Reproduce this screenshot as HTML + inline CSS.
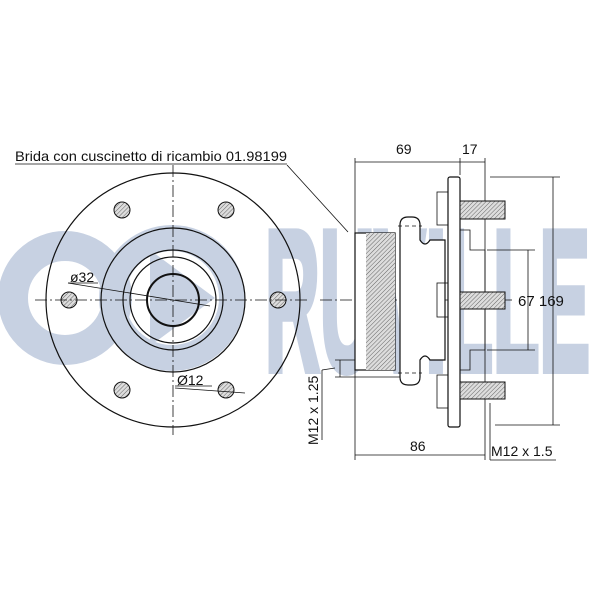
<!DOCTYPE html>
<html><head><meta charset="utf-8"><style>html,body{margin:0;padding:0;background:#fff}</style></head>
<body>
<svg width="600" height="600" viewBox="0 0 600 600" xmlns="http://www.w3.org/2000/svg" font-family="Liberation Sans, sans-serif">
<defs>
<pattern id="h" width="3" height="3" patternUnits="userSpaceOnUse" patternTransform="rotate(45)"><rect width="3" height="3" fill="#ddd"/><line x1="0" y1="0" x2="0" y2="3" stroke="#666" stroke-width="1"/></pattern>
</defs>
<!-- watermark -->
<g fill="none" stroke="#c7d1e2">
<circle cx="65" cy="298" r="52" stroke-width="30"/>
<circle cx="172" cy="298" r="60" stroke-width="26"/>
</g>
<polygon points="150,250 150,346 215,298" fill="#c7d1e2"/>
<text x="265" y="370" font-size="200" font-weight="bold" fill="#c7d1e2" stroke="#c7d1e2" stroke-width="8" textLength="325" lengthAdjust="spacingAndGlyphs">RUVILLE</text>

<g fill="none" stroke="#111" stroke-width="1.2">
<circle cx="173" cy="300" r="127"/>
<circle cx="173" cy="300" r="72"/>
<circle cx="173" cy="300" r="50"/>
<circle cx="173" cy="300" r="43"/>
<circle cx="173" cy="300" r="26" stroke-width="2"/>
</g>
<g fill="url(#h)" stroke="#111" stroke-width="1">
<circle cx="122" cy="210" r="8"/><circle cx="226" cy="210" r="8"/>
<circle cx="69" cy="300" r="8"/><circle cx="278" cy="300" r="8"/>
<circle cx="122" cy="390" r="8"/><circle cx="226" cy="390" r="8"/>
</g>
<g stroke="#111" stroke-width="0.8" stroke-dasharray="12,3,2,3" fill="none">
<line x1="35" y1="300" x2="310" y2="300"/>
<line x1="173" y1="165" x2="173" y2="435"/>
<line x1="320" y1="300" x2="515" y2="300"/>
</g>
<g stroke="#111" stroke-width="0.8" fill="none">
<line x1="68" y1="283" x2="210" y2="306"/>
<line x1="175" y1="388" x2="245" y2="393"/>
<line x1="287" y1="165" x2="348" y2="232"/>
<line x1="15" y1="164" x2="287" y2="164"/>
<line x1="175" y1="386" x2="212" y2="386"/>
<line x1="68" y1="283" x2="98" y2="283"/>
<rect x="355" y="233" width="40" height="137" stroke-width="1.2" fill="#fff"/>
<rect x="366" y="233" width="29" height="137" fill="url(#h)" stroke="none"/>
<path d="M400,225 Q400,217 408,217 L412,217 Q420,217 420,225 L420,240 Q425,248 430,240 L445,240 L445,360 L430,360 Q425,352 420,360 L420,377 Q420,385 412,385 L408,385 Q400,385 400,377 Z" stroke-width="1.2" fill="#fff"/>
<rect x="448" y="177" width="12" height="250" rx="2" stroke-width="1.2" fill="#fff"/>
<rect x="437" y="192" width="11" height="33"/><rect x="437" y="283" width="11" height="34"/><rect x="437" y="375" width="11" height="33"/>
<path d="M460,230 L470,230 L470,250 L485,250 L485,350 L470,350 L470,370 L460,370"/>
<line x1="398" y1="226" x2="422" y2="226" stroke-dasharray="4,3"/>
<line x1="398" y1="373" x2="422" y2="373" stroke-dasharray="4,3"/>
<line x1="355" y1="158" x2="355" y2="460"/>
<line x1="485" y1="158" x2="485" y2="460"/>
<line x1="460" y1="158" x2="460" y2="175"/>
<line x1="355" y1="162" x2="485" y2="162"/>
<line x1="355" y1="455" x2="485" y2="455"/>
<line x1="490" y1="177" x2="560" y2="177"/>
<line x1="495" y1="425" x2="560" y2="425"/>
<line x1="553" y1="177" x2="553" y2="425"/>
<line x1="487" y1="250" x2="535" y2="250"/>
<line x1="487" y1="350" x2="535" y2="350"/>
<line x1="528" y1="250" x2="528" y2="350"/>
<line x1="335" y1="360" x2="355" y2="360"/>
<line x1="335" y1="377" x2="400" y2="377"/>
<line x1="340" y1="360" x2="340" y2="377"/>
<line x1="322" y1="370" x2="335" y2="368"/>
<line x1="322" y1="370" x2="322" y2="440"/>
<line x1="490" y1="403" x2="490" y2="460"/>
<line x1="490" y1="460" x2="556" y2="460"/>
</g>
<g fill="url(#h)" stroke="#111" stroke-width="1">
<rect x="460" y="201" width="45" height="18"/><rect x="460" y="292" width="45" height="17"/><rect x="460" y="382" width="45" height="17"/>
</g>
<g fill="#111" font-size="14">
<text x="15" y="161" textLength="272" lengthAdjust="spacingAndGlyphs">Brida con cuscinetto di ricambio 01.98199</text>
<text x="70" y="282">ø32</text>
<text x="177" y="385">Ø12</text>
<text x="396" y="154">69</text>
<text x="462" y="154">17</text>
<text x="518" y="306" font-size="15">67 169</text>
<text x="410" y="451">86</text>
<text x="491" y="456">M12 x 1.5</text>
<text transform="translate(318,445) rotate(-90)">M12 x 1.25</text>
</g>
</svg>
</body></html>
